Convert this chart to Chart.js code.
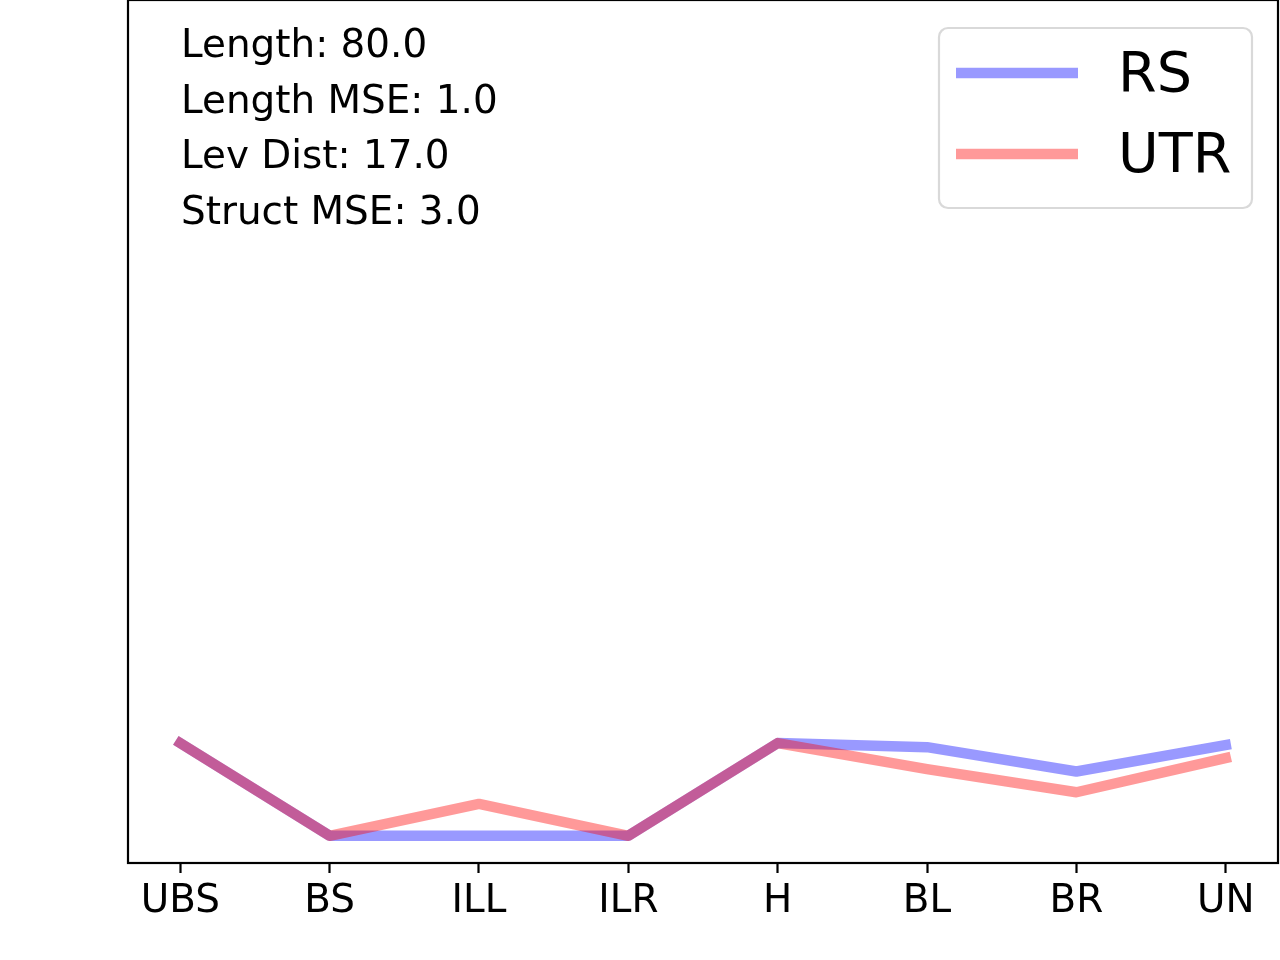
<!DOCTYPE html>
<html>
<head>
<meta charset="utf-8">
<script src="https://cdn.jsdelivr.net/npm/chart.js@4/dist/chart.umd.min.js"></script>
<style>
  body { margin: 0; background: #fff; }
  canvas { display: block; }
</style>
</head>
<body>
<canvas id="chart" width="1280" height="960"></canvas>
<script>
// categories along the x axis
const categories = ["UBS", "BS", "ILL", "ILR", "H", "BL", "BR", "UN"];
// series values (arbitrary units, no y ticks shown)
const rsValues = [3.0, 0.0, 0.0, 0.0, 3.0, 2.87, 2.08, 2.94];
const utrValues = [3.0, 0.0, 1.03, 0.0, 3.0, 2.16, 1.41, 2.52];
const seriesNames = ["RS", "UTR"];
// text block in the upper left
const infoLines = ["Length: 80.0", "Length MSE: 1.0", "Lev Dist: 17.0", "Struct MSE: 3.0"];

const FONT = "'DejaVu Sans', sans-serif";

function toPoints(vals) {
    return vals.map((v, i) => ({x: i, y: v}));
}

// matplotlib style box round the axes
const framePlugin = {
    id: "frame",
    afterDraw(chart) {
        const a = chart.chartArea;
        const ctx = chart.ctx;
        ctx.save();
        ctx.strokeStyle = "#000";
        ctx.lineWidth = 2.2;
        ctx.strokeRect(a.left, a.top, a.right - a.left, a.bottom - a.top);
        ctx.restore();
    }
};

const infoPlugin = {
    id: "info",
    afterDraw(chart) {
        const ctx = chart.ctx;
        ctx.save();
        ctx.fillStyle = "#000";
        ctx.font = "38.9px " + FONT;
        ctx.textBaseline = "alphabetic";
        infoLines.forEach((t, i) => {
            ctx.fillText(t, 181, 57 + i * 55.5);
        });
        ctx.restore();
    }
};

const legendPlugin = {
    id: "mplLegend",
    afterDraw(chart) {
        const ctx = chart.ctx;
        ctx.save();
        ctx.beginPath();
        ctx.roundRect(939, 28, 313, 180, 9);
        ctx.fillStyle = "rgba(255,255,255,0.8)";
        ctx.fill();
        ctx.strokeStyle = "#d9d9d9";
        ctx.lineWidth = 2.2;
        ctx.stroke();
        const ys = [73, 154];
        chart.data.datasets.forEach((ds, i) => {
            ctx.beginPath();
            ctx.moveTo(956, ys[i]);
            ctx.lineTo(1078, ys[i]);
            ctx.strokeStyle = ds.borderColor;
            ctx.lineWidth = 10.5;
            ctx.lineCap = "butt";
            ctx.stroke();
            ctx.fillStyle = "#000";
            ctx.font = "55.6px " + FONT;
            ctx.textBaseline = "middle";
            ctx.fillText(ds.label, 1118, ys[i] + 4);
        });
        ctx.restore();
    }
};

new Chart(document.getElementById("chart"), {
    type: "line",
    data: {
        datasets: [
            {
                label: seriesNames[0],
                data: toPoints(rsValues),
                borderColor: "rgba(0,0,255,0.4)",
                borderWidth: 10.5,
                order: 2
            },
            {
                label: seriesNames[1],
                data: toPoints(utrValues),
                borderColor: "rgba(255,0,0,0.4)",
                borderWidth: 10.5,
                order: 1
            }
        ]
    },
    options: {
        responsive: false,
        animation: false,
        devicePixelRatio: 1,
        layout: {padding: {left: 128, right: 2, top: 0, bottom: 0}},
        elements: {
            point: {radius: 0},
            line: {tension: 0, borderCapStyle: "square", borderJoinStyle: "round", fill: false}
        },
        plugins: {legend: {display: false}, tooltip: {enabled: false}},
        scales: {
            x: {
                type: "linear",
                min: -0.35,
                max: categories.length - 1 + 0.35,
                afterFit: s => { s.height = 97; },
                border: {display: false},
                grid: {
                    display: true,
                    drawOnChartArea: false,
                    drawTicks: true,
                    tickLength: 10,
                    tickColor: "#000",
                    tickWidth: 2.2
                },
                ticks: {
                    stepSize: 1,
                    includeBounds: false,
                    autoSkip: false,
                    maxRotation: 0,
                    color: "#000",
                    padding: 6,
                    font: {family: FONT, size: 38.9},
                    callback: v => categories[v] || ""
                }
            },
            y: {
                display: false,
                min: -0.88,
                max: 27.05
            }
        }
    },
    plugins: [framePlugin, infoPlugin, legendPlugin]
});
</script>
</body>
</html>
